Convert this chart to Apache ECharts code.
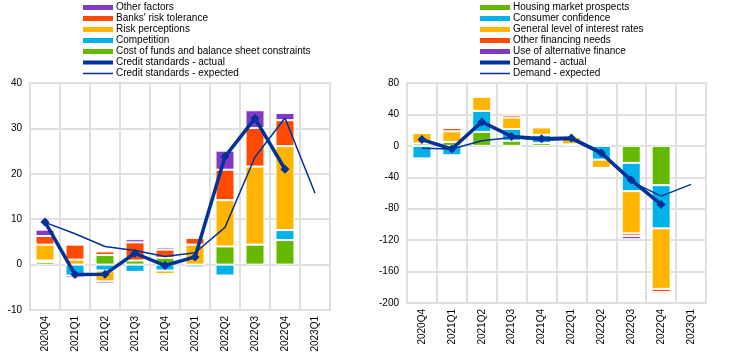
<!DOCTYPE html>
<html>
<head>
<meta charset="utf-8">
<script src="https://cdn.jsdelivr.net/npm/echarts@6/dist/echarts.min.js"></script>
<style>html,body{margin:0;padding:0;background:#fff}#c{width:744px;height:363px}</style>
</head>
<body>
<div id="c"></div>
<script>
var categories = ['2020Q4','2021Q1','2021Q2','2021Q3','2021Q4','2022Q1','2022Q2','2022Q3','2022Q4','2023Q1'];
var yTicksLeft = [-10, 0, 10, 20, 30, 40];
var yTicksRight = [-200, -160, -120, -80, -40, 0, 40, 80];

// Left: credit standards
var costFunds   = [0.6, 0, 2.1, 0.9, 1.5, 0, 4.0, 4.4, 5.4, null];
var competition = [0.3, -2.4, -1.3, -1.6, -1.3, -0.6, -2.4, 0, 2.2, null];
var riskPerc    = [3.5, 1.1, -2.4, -0.3, -0.8, 4.4, 10.2, 17.2, 18.5, null];
var riskTol     = [1.9, 3.3, 0.8, 4.0, 1.8, 1.5, 6.7, 8.5, 5.7, null];
var otherFactors= [1.4, -0.5, -0.5, 0.7, 0.5, 0, 4.2, 3.9, 1.6, null];
var csActual    = [9.4, -2.2, -2.1, 2.5, -0.2, 1.7, 23.8, 32.2, 21.0, null];
var csExpected  = [9.3, 6.8, 4.0, 3.1, 1.8, 2.6, 8.2, 23.7, 32.3, 15.7];

// Right: demand
var housing     = [3, 5, 17.8, 6.5, 3.5, 2, 0, -21.6, -50, null];
var consumer    = [-16, -12, 26.7, 15, 10.5, 0, -17.5, -36, -55, null];
var interest    = [13.5, 13.5, 18, 14.5, 9.5, 9, -10.5, -53.8, -77, null];
var otherFin    = [0, 4.2, 1.5, 3.5, 1.5, 1.5, 0, -3.4, -4.2, null];
var altFin      = [-1.5, -1.5, 0, -1.5, 0, 0, 0, -4, -2, null];
var dActual     = [8, -4, 30.5, 12, 9, 10, -9, -43.5, -74.5, null];
var dExpected   = [-3, -4, 6.5, 10.5, 7, 8, -10.5, -45.5, -64, -49];

var C = {purple:'#8139c6', orange:'#ff4b00', yellow:'#ffb400', cyan:'#00b1ea', green:'#65b800', blue:'#003299'};
var FONT = 'Liberation Sans, Arial, sans-serif';
var ICON_THICK = 'path://M0,0L0,5M0,0.5H30V4.5H0Z';
var ICON_THIN = 'path://M0,0L0,5M0,1.7H30V3.3H0Z';

function bar(name, data, color, idx, stack) {
  return {name:name, type:'bar', data:data, stack:stack, xAxisIndex:idx, yAxisIndex:idx,
    barWidth:19, itemStyle:{color:color, borderColor:'#ffffff', borderWidth:1}};
}
function line(name, data, idx, thick) {
  return {name:name, type:'line', data:data, xAxisIndex:idx, yAxisIndex:idx, z:5,
    symbol: thick ? 'diamond' : 'none', symbolSize: 9, showSymbol: thick,
    lineStyle:{color:C.blue, width: thick ? 3.5 : 1.5}, itemStyle:{color:C.blue}};
}
function xAx(idx) {
  return {type:'category', gridIndex:idx, data:categories, boundaryGap:true,
    axisLine:{show:false}, axisTick:{show:false},
    axisLabel:{rotate:90, fontSize:10, color:'#000', fontFamily:FONT, margin:6, interval:0},
    splitLine:{show:true, interval:0, lineStyle:{color:'#e0e0e0', width:2}}};
}
function yAx(idx, min, max, step) {
  return {type:'value', gridIndex:idx, min:min, max:max, interval:step,
    axisLine:{show:false}, axisTick:{show:false},
    axisLabel:{fontSize:10, color:'#000', fontFamily:FONT, margin:8},
    splitLine:{lineStyle:{color:'#e0e0e0', width:2}}};
}
var legendCommon = {orient:'vertical', itemWidth:30, itemHeight:5, itemGap:0, padding:0,
  textStyle:{fontSize:10, lineHeight:11, height:11, color:'#000', fontFamily:FONT, padding:[0,0,0,-2]},
  selectedMode:false};
function barLegend(name) {
  return {name:name, icon:'rect', itemStyle:{borderWidth:0}};
}
function lineLegend(name, icon) {
  return {name:name, icon:icon, itemStyle:{color:C.blue, borderWidth:0}};
}

var chart = echarts.init(document.getElementById('c'), null, {renderer:'canvas'});
chart.setOption({
  animation:false,
  backgroundColor:'#fff',
  grid:[
    {left:30, top:83, width:300, height:227, show:true, borderColor:'#e0e0e0', borderWidth:2},
    {left:407, top:83, width:299, height:220, show:true, borderColor:'#e0e0e0', borderWidth:2}
  ],
  legend:[
    Object.assign({left:83, top:2, data:[
      barLegend('Other factors'),
      barLegend("Banks' risk tolerance"),
      barLegend('Risk perceptions'),
      barLegend('Competition'),
      barLegend('Cost of funds and balance sheet constraints'),
      lineLegend('Credit standards - actual', ICON_THICK),
      lineLegend('Credit standards - expected', ICON_THIN)
    ]}, legendCommon),
    Object.assign({left:480, top:2, data:[
      barLegend('Housing market prospects'),
      barLegend('Consumer confidence'),
      barLegend('General level of interest rates'),
      barLegend('Other financing needs'),
      barLegend('Use of alternative finance'),
      lineLegend('Demand - actual', ICON_THICK),
      lineLegend('Demand - expected', ICON_THIN)
    ]}, legendCommon)
  ],
  xAxis:[xAx(0), xAx(1)],
  yAxis:[yAx(0, yTicksLeft[0], yTicksLeft[yTicksLeft.length-1], 10),
         yAx(1, yTicksRight[0], yTicksRight[yTicksRight.length-1], 40)],
  series:[
    bar('Cost of funds and balance sheet constraints', costFunds, C.green, 0, 'L'),
    bar('Competition', competition, C.cyan, 0, 'L'),
    bar('Risk perceptions', riskPerc, C.yellow, 0, 'L'),
    bar("Banks' risk tolerance", riskTol, C.orange, 0, 'L'),
    bar('Other factors', otherFactors, C.purple, 0, 'L'),
    line('Credit standards - actual', csActual, 0, true),
    line('Credit standards - expected', csExpected, 0, false),
    bar('Housing market prospects', housing, C.green, 1, 'R'),
    bar('Consumer confidence', consumer, C.cyan, 1, 'R'),
    bar('General level of interest rates', interest, C.yellow, 1, 'R'),
    bar('Other financing needs', otherFin, C.orange, 1, 'R'),
    bar('Use of alternative finance', altFin, C.purple, 1, 'R'),
    line('Demand - actual', dActual, 1, true),
    line('Demand - expected', dExpected, 1, false)
  ]
});
</script>
</body>
</html>
